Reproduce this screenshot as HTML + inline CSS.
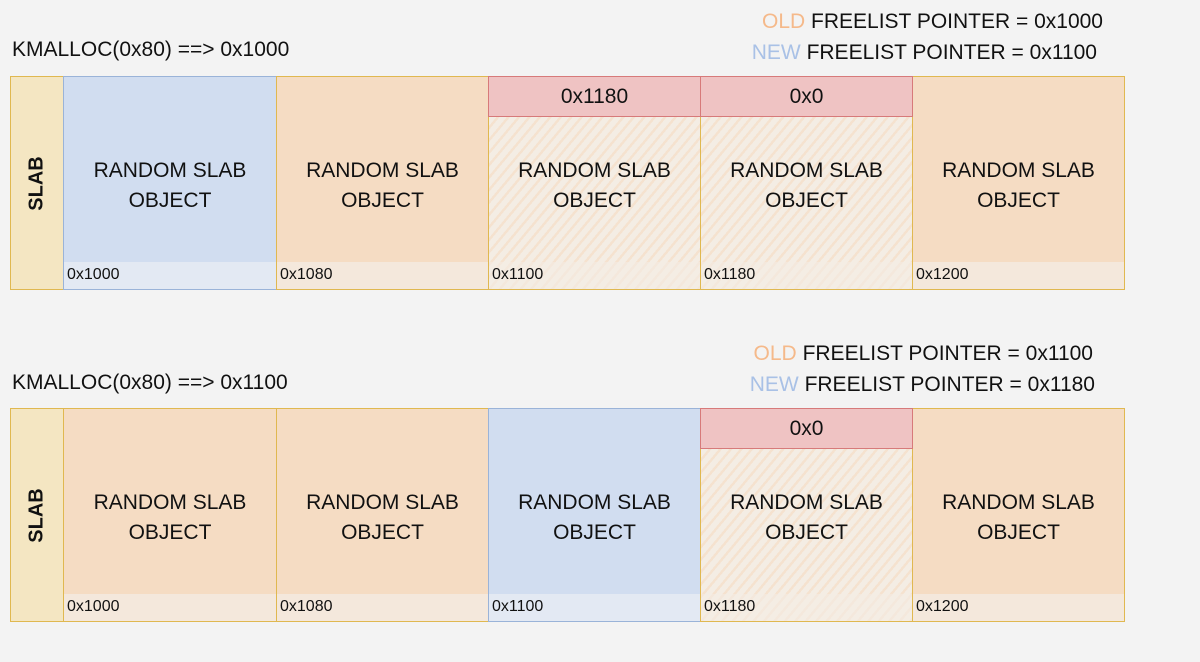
<!DOCTYPE html>
<html><head><style>
body{margin:0;width:1200px;height:662px;background:#f3f3f3;font-family:"Liberation Sans",sans-serif;position:relative;overflow:hidden;color:#111}
.a{position:absolute;box-sizing:border-box}
.slab{background:#f4e6c2;border:1.5px solid #e0b850}
.c{border:1.5px solid #e0b850;display:flex;align-items:center;justify-content:center;text-align:center;font-size:21px;line-height:30px;padding-top:5px}
.blue{background:#d1ddf0;border-color:#9ab3d8}
.or{background:#f5dcc3}
.hat{background:#f4ede4 repeating-linear-gradient(-50deg,#f5e2cf 0 2.5px,transparent 2.5px 8px)}
.band{font-size:16px;padding:4px 0 0 3px}
.hdr{background:#efc3c3;border:1.5px solid #d77a7a;font-size:21px;display:flex;align-items:center;justify-content:center}
.t{font-size:21px;white-space:nowrap}
.v{display:flex;align-items:center;justify-content:center}
.v span{transform:rotate(-90deg);font-size:20px;font-weight:bold}
</style></head><body>

<div class="a t" style="left:12px;top:38px">KMALLOC(0x80) ==&gt; 0x1000</div>
<div class="a t" style="right:97px;top:10px"><span style="color:#f5b98a">OLD</span> FREELIST POINTER = 0x1000</div>
<div class="a t" style="right:103px;top:41px"><span style="color:#a9c1e6">NEW</span> FREELIST POINTER = 0x1100</div>

<div class="a slab v" style="left:10px;top:76px;width:54px;height:214px"><span>SLAB</span></div>
<div class="a c blue" style="left:63px;top:76px;width:214px;height:214px">RANDOM SLAB<br>OBJECT</div>
<div class="a c or" style="left:276px;top:76px;width:213px;height:214px">RANDOM SLAB<br>OBJECT</div>
<div class="a c hat" style="left:488px;top:76px;width:213px;height:214px">RANDOM SLAB<br>OBJECT</div>
<div class="a c hat" style="left:700px;top:76px;width:213px;height:214px">RANDOM SLAB<br>OBJECT</div>
<div class="a c or" style="left:912px;top:76px;width:213px;height:214px">RANDOM SLAB<br>OBJECT</div>
<div class="a hdr" style="left:488px;top:76px;width:213px;height:41px">0x1180</div>
<div class="a hdr" style="left:700px;top:76px;width:213px;height:41px">0x0</div>
<div class="a band" style="left:64px;top:262px;width:212px;height:27px;background:#e3e9f3">0x1000</div>
<div class="a band" style="left:277px;top:262px;width:211px;height:27px;background:#f4e8dc">0x1080</div>
<div class="a band" style="left:489px;top:262px;width:211px;height:27px;background:rgba(244,236,228,.6)">0x1100</div>
<div class="a band" style="left:701px;top:262px;width:211px;height:27px;background:rgba(244,236,228,.6)">0x1180</div>
<div class="a band" style="left:913px;top:262px;width:211px;height:27px;background:#f4e8dc">0x1200</div>

<div class="a t" style="left:12px;top:371px">KMALLOC(0x80) ==&gt; 0x1100</div>
<div class="a t" style="right:107px;top:342px"><span style="color:#f5b98a">OLD</span> FREELIST POINTER = 0x1100</div>
<div class="a t" style="right:105px;top:373px"><span style="color:#a9c1e6">NEW</span> FREELIST POINTER = 0x1180</div>

<div class="a slab v" style="left:10px;top:408px;width:54px;height:214px"><span>SLAB</span></div>
<div class="a c or" style="left:63px;top:408px;width:214px;height:214px">RANDOM SLAB<br>OBJECT</div>
<div class="a c or" style="left:276px;top:408px;width:213px;height:214px">RANDOM SLAB<br>OBJECT</div>
<div class="a c blue" style="left:488px;top:408px;width:213px;height:214px">RANDOM SLAB<br>OBJECT</div>
<div class="a c hat" style="left:700px;top:408px;width:213px;height:214px">RANDOM SLAB<br>OBJECT</div>
<div class="a c or" style="left:912px;top:408px;width:213px;height:214px">RANDOM SLAB<br>OBJECT</div>
<div class="a hdr" style="left:700px;top:408px;width:213px;height:41px">0x0</div>
<div class="a band" style="left:64px;top:594px;width:212px;height:27px;background:#f4e8dc">0x1000</div>
<div class="a band" style="left:277px;top:594px;width:211px;height:27px;background:#f4e8dc">0x1080</div>
<div class="a band" style="left:489px;top:594px;width:211px;height:27px;background:#e3e9f3">0x1100</div>
<div class="a band" style="left:701px;top:594px;width:211px;height:27px;background:rgba(244,236,228,.6)">0x1180</div>
<div class="a band" style="left:913px;top:594px;width:211px;height:27px;background:#f4e8dc">0x1200</div>
</body></html>
